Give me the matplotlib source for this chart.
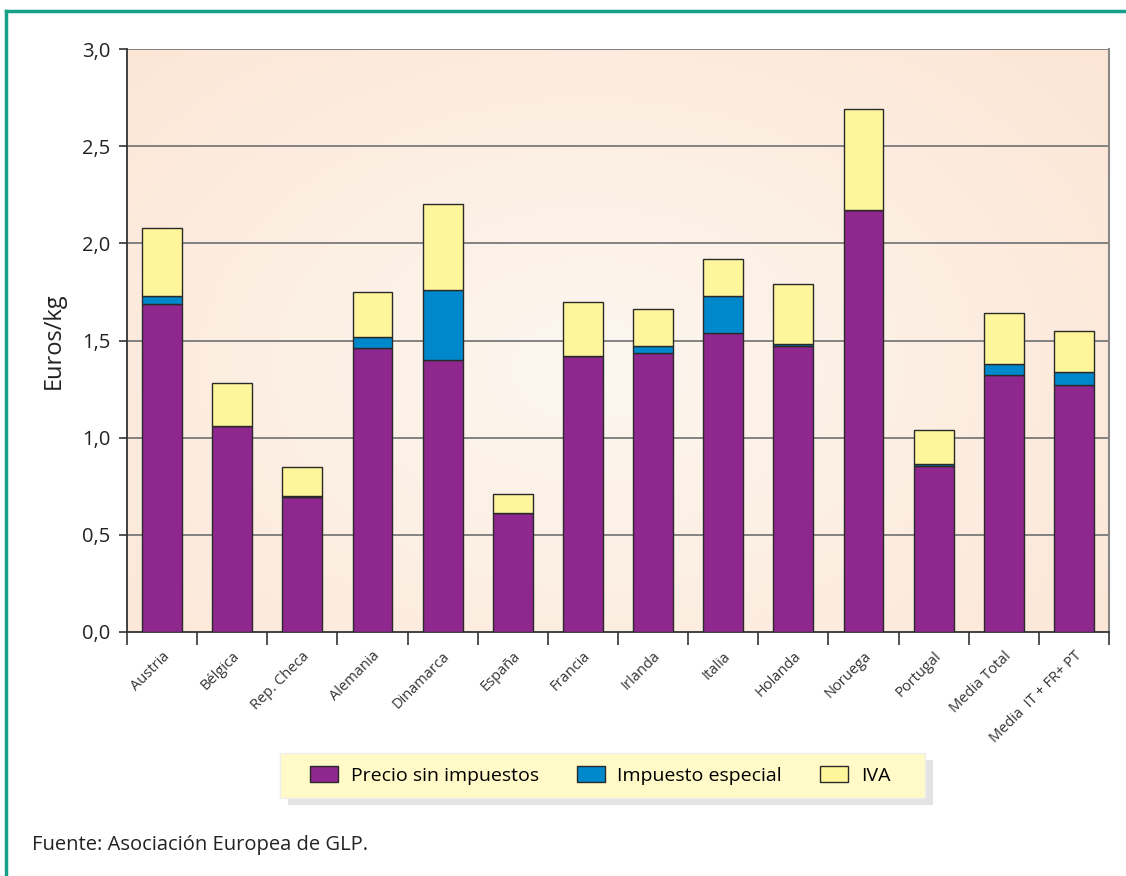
import numpy as np
import matplotlib
matplotlib.use("Agg")
import matplotlib.pyplot as plt
from matplotlib.patches import Rectangle
from matplotlib.lines import Line2D

categories = ["Austria", "Bélgica", "Rep. Checa", "Alemania", "Dinamarca", "España",
              "Francia", "Irlanda", "Italia", "Holanda", "Noruega", "Portugal",
              "Media Total", "Media  IT + FR+ PT"]
precio = [1.69, 1.06, 0.695, 1.46, 1.40, 0.61, 1.42, 1.435, 1.54, 1.47, 2.17, 0.855, 1.32, 1.27]
especial = [0.04, 0.0, 0.005, 0.06, 0.36, 0.0, 0.0, 0.035, 0.19, 0.01, 0.0, 0.01, 0.06, 0.07]
iva = [0.35, 0.22, 0.15, 0.23, 0.44, 0.10, 0.28, 0.19, 0.19, 0.31, 0.52, 0.175, 0.26, 0.21]
series_names = ["Precio sin impuestos", "Impuesto especial", "IVA"]
colors = ["#8e278e", "#0088cc", "#fff59a"]
yticks = [0.0, 0.5, 1.0, 1.5, 2.0, 2.5, 3.0]
ytick_labels = ["0,0", "0,5", "1,0", "1,5", "2,0", "2,5", "3,0"]

plt.rcParams['font.family'] = ['Open Sans', 'DejaVu Sans']

W, H = 1126, 876
fig = plt.figure(figsize=(W / 100, H / 100), dpi=100)
fig.patch.set_facecolor("white")

def fx(px):
    return px / W

def fy(py):
    return 1 - py / H

ax = fig.add_axes([fx(127), fy(632), fx(1109) - fx(127), fy(49) - fy(632)])

# background gradient
ny, nx = 200, 300
yy, xx = np.mgrid[0:1:ny * 1j, 0:1:nx * 1j]
d = np.sqrt(((xx - 0.47) / 0.72) ** 2 + ((yy - 0.45) / 0.85) ** 2)
d = np.clip(d, 0, 1)
c_in = np.array([0xfd, 0xf7, 0xf0]) / 255
c_out = np.array([0xfc, 0xe5, 0xd4]) / 255
img = c_in[None, None, :] * (1 - d[..., None]) + c_out[None, None, :] * d[..., None]
ax.imshow(img, extent=[-0.5, len(categories) - 0.5, 0, 3.0], aspect='auto',
          origin='lower', zorder=0, interpolation='bilinear')

x = np.arange(len(categories))
bw = 0.57
bottom = np.zeros(len(categories))
for vals, col, name in zip([precio, especial, iva], colors, series_names):
    ax.bar(x, vals, bw, bottom=bottom, color=col, edgecolor="#2a2a2a",
           linewidth=1.0, zorder=3, label=name)
    bottom = bottom + np.array(vals)

ax.set_xlim(-0.5, len(categories) - 0.5)
ax.set_ylim(0, 3.0)
ax.set_yticks(yticks)
ax.set_yticklabels(ytick_labels, fontsize=14.5, color="#222222")
for yv in yticks[1:]:
    ax.axhline(yv, color="#7a7a7a", lw=1.3, zorder=2)

ax.set_xticks(np.arange(len(categories) + 1) - 0.5, minor=False)
ax.set_xticklabels([])
ax.set_xticks(x, minor=True)
ax.set_xticklabels(categories, minor=True, rotation=45, ha='right',
                   rotation_mode='anchor', fontsize=10.5, color="#333333")
ax.tick_params(axis='x', which='major', length=9, width=1.2, color="#333333")
ax.tick_params(axis='x', which='minor', length=0, pad=12)
ax.tick_params(axis='y', length=6, width=1.2, color="#333333", pad=6)

for s in ["left", "bottom"]:
    ax.spines[s].set_color("#333333")
    ax.spines[s].set_linewidth(1.3)
ax.spines["right"].set_color("#888888")
ax.spines["right"].set_linewidth(1.5)
ax.spines["top"].set_visible(False)

ax.set_ylabel("Euros/kg", fontsize=17, color="#222222", labelpad=12)

# teal frame
fig.add_artist(Line2D([fx(6), 1.0], [fy(11), fy(11)], color="#16a08a", lw=2.5,
                      transform=fig.transFigure))
fig.add_artist(Line2D([fx(6), fx(6)], [fy(11), 0.0], color="#16a08a", lw=2.5,
                      transform=fig.transFigure))

# legend box with shadow
lx0, lx1, ly0, ly1 = 280, 925, 753, 798
fig.add_artist(Rectangle((fx(lx0 + 8), fy(ly1 + 7)), fx(lx1 - lx0), fy(ly0) - fy(ly1),
                         transform=fig.transFigure, facecolor="#e3e3e3",
                         edgecolor="none", zorder=1))
fig.add_artist(Rectangle((fx(lx0), fy(ly1)), fx(lx1 - lx0), fy(ly0) - fy(ly1),
                         transform=fig.transFigure, facecolor="#fffac8",
                         edgecolor="#eeeeee", lw=1, zorder=2))
handles, labels = ax.get_legend_handles_labels()
leg = fig.legend(handles, labels, loc='center', ncol=3, frameon=False,
                 bbox_to_anchor=(fx(600), fy((ly0 + ly1) / 2)),
                 fontsize=14, handlelength=1.45, handleheight=0.9,
                 columnspacing=1.95, handletextpad=0.65)
leg.set_zorder(3)

fig.text(fx(32), fy(845), "Fuente: Asociación Europea de GLP.", fontsize=14.5,
         color="#222222", va='center', ha='left')

fig.savefig("out.png", dpi=100)
